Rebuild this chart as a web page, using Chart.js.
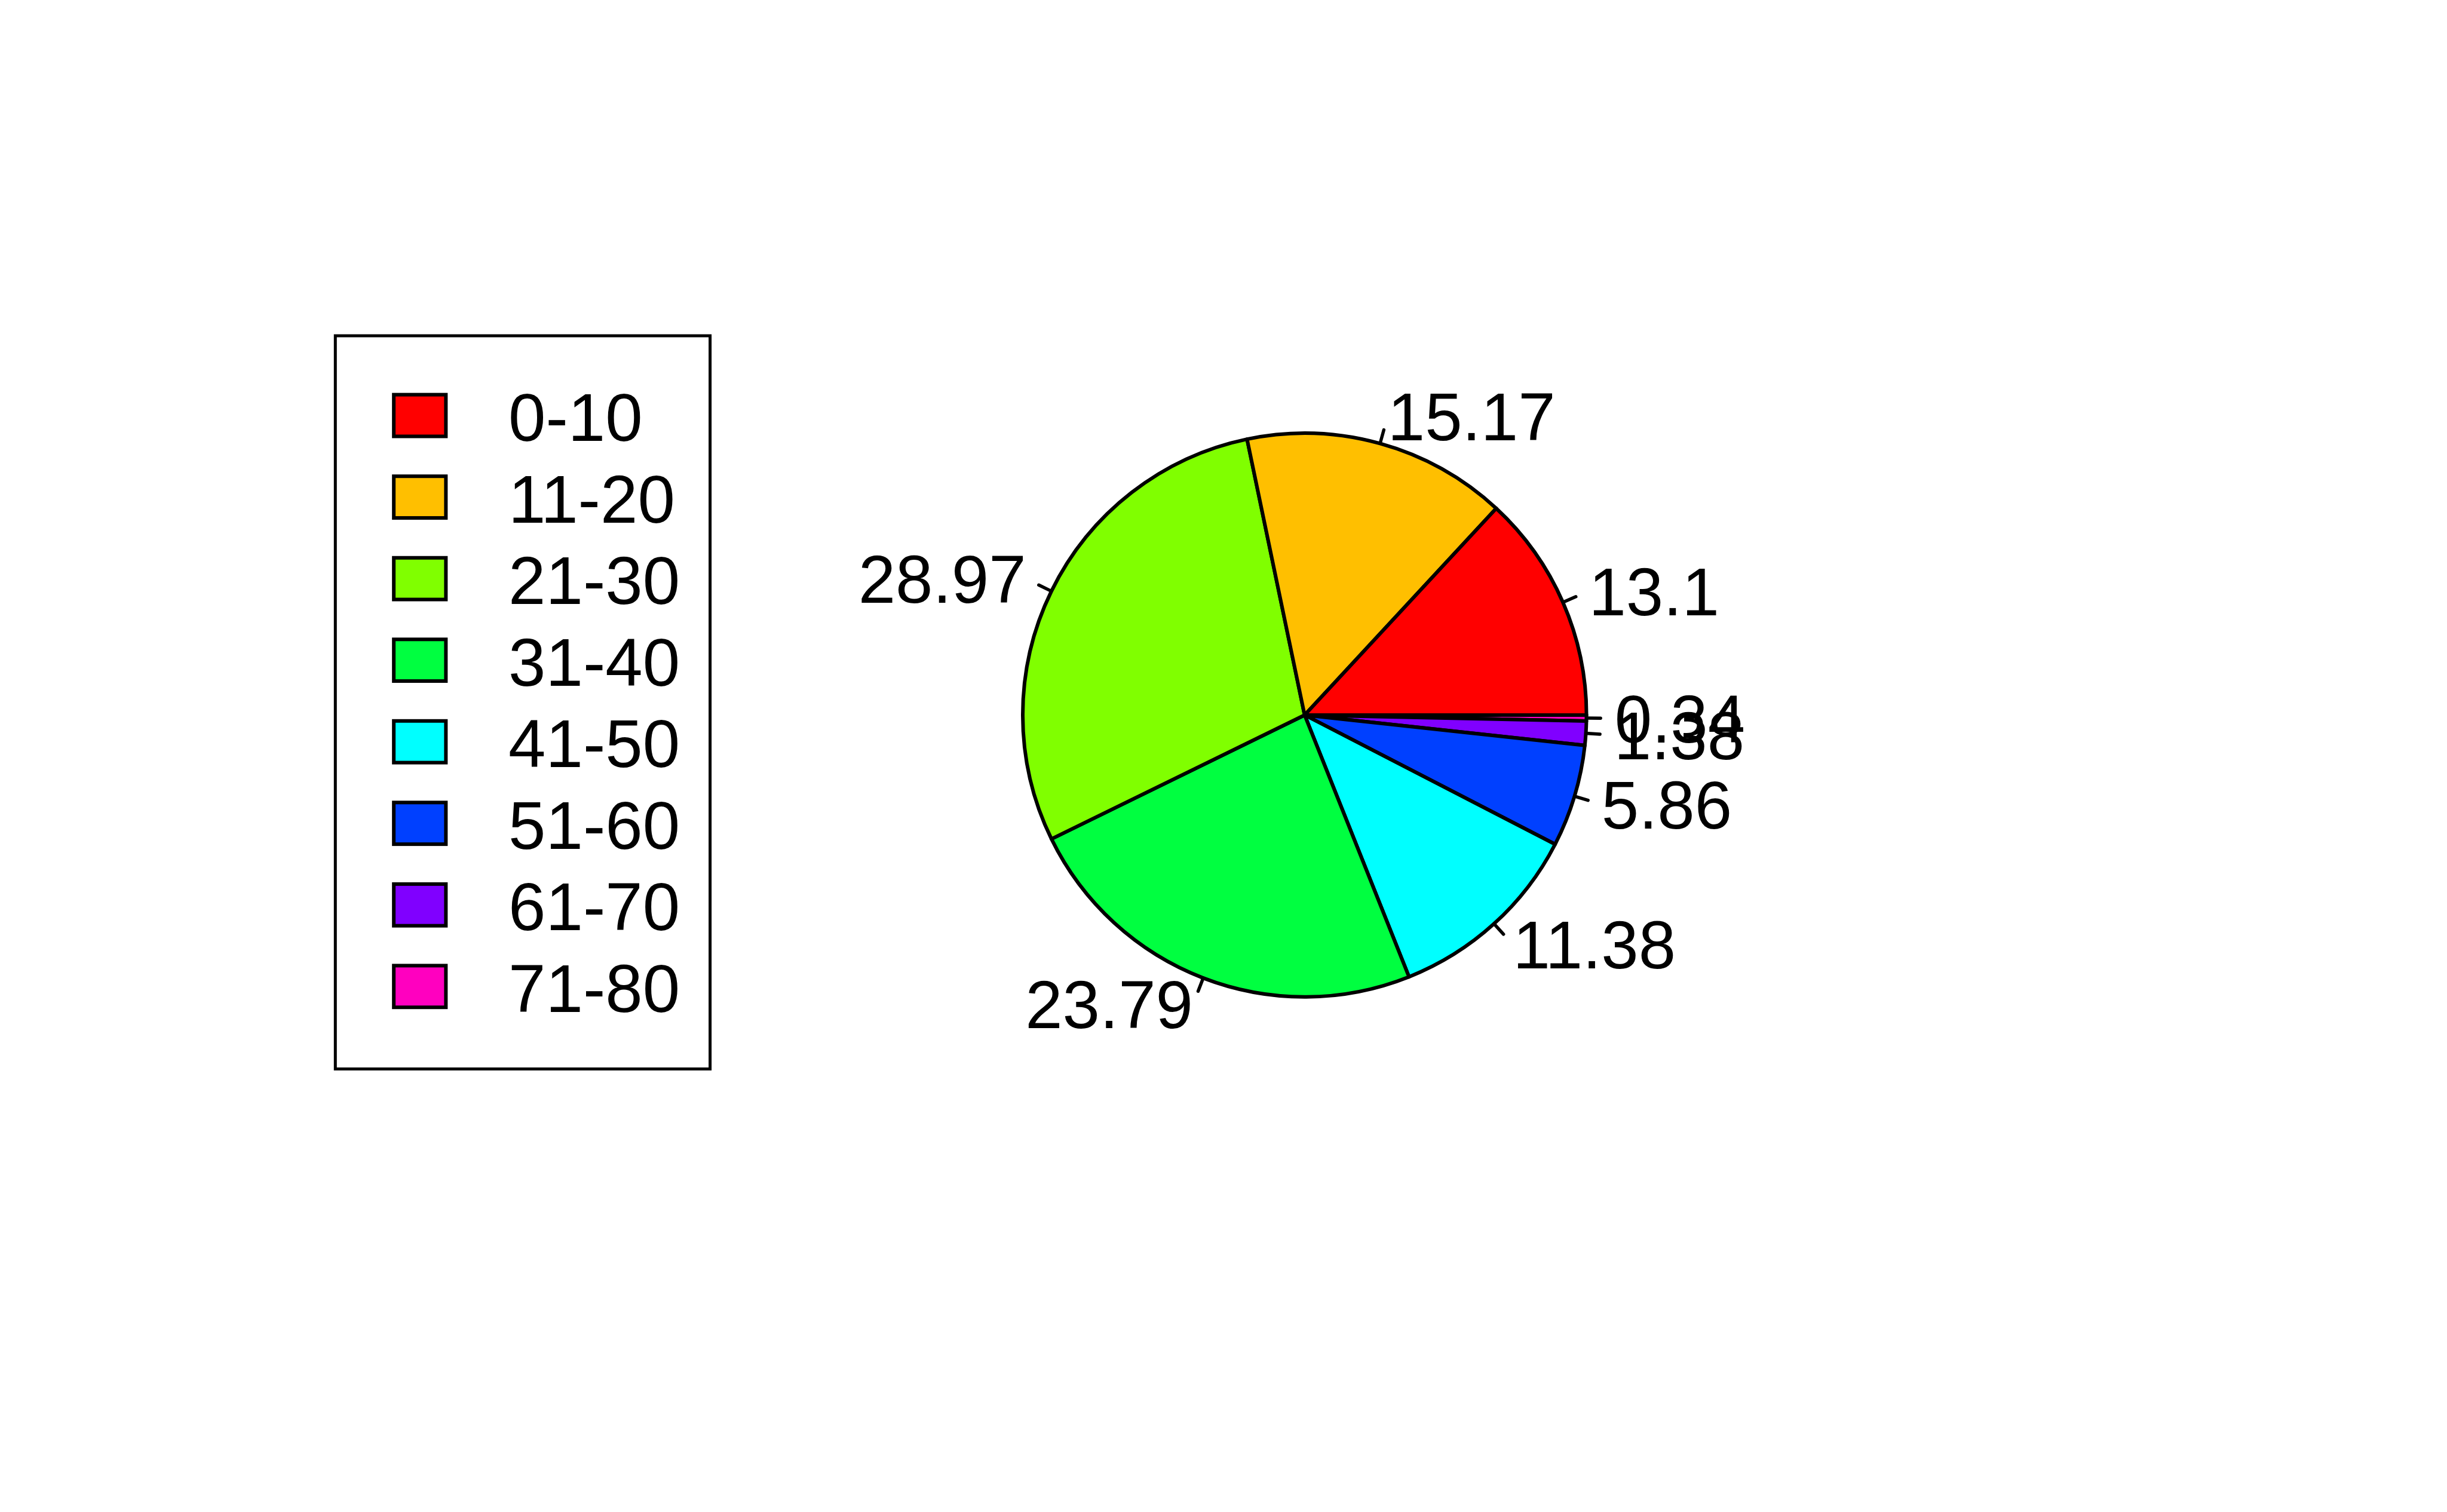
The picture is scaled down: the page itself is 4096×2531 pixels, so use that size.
<!DOCTYPE html>
<html><head><meta charset="utf-8">
<script src="https://cdn.jsdelivr.net/npm/chart.js@4"></script>
<style>html,body{margin:0;padding:0;background:#fff;} canvas{display:block;}</style>
</head><body>
<canvas id="c" width="4096" height="2531"></canvas>
<script>
// ---- data ----
const categories = ['0-10','11-20','21-30','31-40','41-50','51-60','61-70','71-80'];
const values = [13.1, 15.17, 28.97, 23.79, 11.38, 5.86, 1.38, 0.34];
const valueLabels = ['13.1','15.17','28.97','23.79','11.38','5.86','1.38','0.34'];
const colors = ['#FF0000','#FFBF00','#80FF00','#00FF40','#00FFFF','#0040FF','#8000FF','#FF00BF'];

// ---- layout (reference px scaled to window) ----
const S = 4096/5400;
const FONT = '"Liberation Sans", Arial, Helvetica, sans-serif';
const FS = 148*S;
const CX = 2879*S, CY = 1578*S, R = 622*S;
const HALF = R + 8;
const W = 4096, H = 2531;

// Chart.js draws clockwise; R draws counter-clockwise from 3 o'clock -> reverse order
const n = values.length;
const revValues = values.slice().reverse();
const revColors = colors.slice().reverse();
const revCats = categories.slice().reverse();

const labelPlugin = {
  id: 'rlabels',
  afterDatasetsDraw(chart) {
    const ctx = chart.ctx;
    const meta = chart.getDatasetMeta(0);
    ctx.save();
    ctx.font = FS + 'px ' + FONT;
    ctx.fillStyle = '#000';
    ctx.strokeStyle = '#000';
    ctx.lineWidth = 5.5;
    ctx.lineCap = 'round';
    meta.data.forEach((el, j) => {
      const i = n - 1 - j;
      const p = el.getProps(['x','y','startAngle','endAngle','outerRadius'], true);
      const a = (p.startAngle + p.endAngle) / 2;
      const c = Math.cos(a), s = Math.sin(a);
      const r = p.outerRadius;
      ctx.beginPath();
      ctx.moveTo(p.x + r*c, p.y + r*s);
      ctx.lineTo(p.x + 1.05*r*c, p.y + 1.05*r*s);
      ctx.stroke();
      ctx.textAlign = c < 0 ? 'right' : 'left';
      ctx.textBaseline = 'alphabetic';
      ctx.fillText(valueLabels[i], p.x + 1.1*r*c, p.y + 1.1*r*s + 0.358*FS);
    });
    ctx.restore();
  }
};

const legendPlugin = {
  id: 'rlegend',
  afterDraw(chart) {
    const ctx = chart.ctx;
    ctx.save();
    ctx.strokeStyle = '#000';
    ctx.lineWidth = 5;
    ctx.strokeRect(740*S, 741*S, (1567-740)*S, (2359-741)*S);
    ctx.font = FS + 'px ' + FONT;
    ctx.textAlign = 'left';
    ctx.textBaseline = 'alphabetic';
    categories.forEach((cat, i) => {
      const yc = (917 + i*180)*S;
      const bh = 92*S;
      ctx.fillStyle = colors[i];
      ctx.fillRect(869*S, yc - bh/2, (984-869)*S, bh);
      ctx.lineWidth = 6;
      ctx.strokeRect(869*S, yc - bh/2, (984-869)*S, bh);
      ctx.fillStyle = '#000';
      ctx.fillText(cat, 1122*S, yc + 3*S + 0.358*FS);
    });
    ctx.restore();
  }
};

new Chart(document.getElementById('c'), {
  type: 'pie',
  data: {
    labels: revCats,
    datasets: [{
      data: revValues,
      backgroundColor: revColors,
      borderColor: '#000',
      borderWidth: 6,
      borderJoinStyle: 'round',
      radius: R
    }]
  },
  options: {
    responsive: false,
    animation: false,
    devicePixelRatio: 1,
    rotation: 90,
    layout: { padding: { left: CX - HALF, right: W - (CX + HALF), top: CY - HALF, bottom: H - (CY + HALF) } },
    plugins: { legend: { display: false }, tooltip: { enabled: false } }
  },
  plugins: [labelPlugin, legendPlugin]
});
</script>
</body></html>
